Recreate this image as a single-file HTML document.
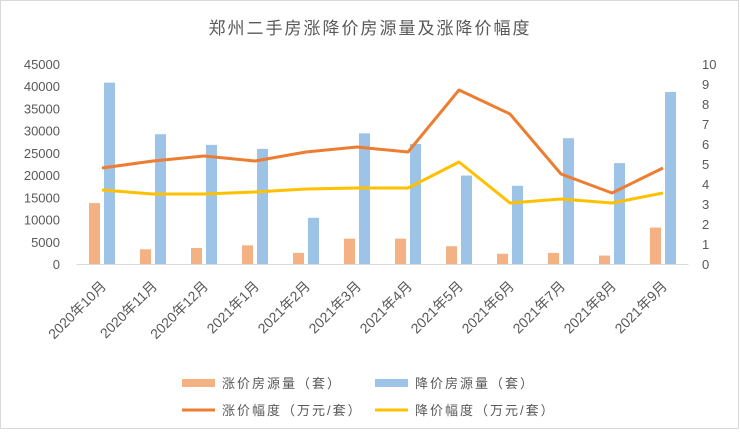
<!DOCTYPE html>
<html><head><meta charset="utf-8"><style>
body{margin:0;background:#fff}
svg text{font-family:"Liberation Sans","Noto Sans CJK SC",sans-serif}
</style></head><body>
<svg width="740" height="430">
<rect x="0.5" y="0.5" width="738" height="428" fill="#fff" stroke="#d9d9d9"/>
<text x="370" y="34" text-anchor="middle" font-size="17" fill="#595959" letter-spacing="2" font-family="'Noto Serif CJK SC',serif">郑州二手房涨降价房源量及涨降价幅度</text>
<g id="g"></g>
<g font-size="13" fill="#595959">
<rect x="182" y="379" width="33" height="8" fill="#f4b183"/>
<text x="222" y="388" fill="#595959" letter-spacing="2">涨价房源量（套）</text>
<rect x="375" y="379" width="33" height="8" fill="#9dc3e6"/>
<text x="415" y="388" fill="#595959" letter-spacing="2">降价房源量（套）</text>
<line x1="182" y1="410" x2="215" y2="410" stroke="#ed7d31" stroke-width="3"/>
<text x="222" y="415" fill="#595959" letter-spacing="2">涨价幅度（万元/套）</text>
<line x1="375" y1="410" x2="408" y2="410" stroke="#ffc000" stroke-width="3"/>
<text x="415" y="415" fill="#595959" letter-spacing="2">降价幅度（万元/套）</text>
</g>
</svg>
<script>
const categories=["2020年10月","2020年11月","2020年12月","2021年1月","2021年2月","2021年3月","2021年4月","2021年5月","2021年6月","2021年7月","2021年8月","2021年9月"];
const riseCount=[13700,3300,3600,4200,2500,5700,5700,4000,2300,2500,1900,8200];
const fallCount=[40800,29200,26800,25900,10400,29400,27000,19900,17600,28300,22700,38700];
const riseAmp=[4.8,5.15,5.4,5.15,5.6,5.85,5.6,8.7,7.5,4.5,3.55,4.8];
const fallAmp=[3.7,3.5,3.5,3.6,3.75,3.8,3.8,5.1,3.05,3.25,3.05,3.55];
const leftTicks=[0,5000,10000,15000,20000,25000,30000,35000,40000,45000];
const rightTicks=[0,1,2,3,4,5,6,7,8,9,10];
const NS="http://www.w3.org/2000/svg",g=document.getElementById('g');
const x0=76.5,x1=688.5,yB=264,yT=64;
const step=(x1-x0)/categories.length;
const xc=i=>x0+step*(i+0.5);
const yL=v=>yB-(v/45000)*(yB-yT);
const yR=v=>yB-(v/10)*(yB-yT);
function el(t,a){const e=document.createElementNS(NS,t);for(const k in a)e.setAttribute(k,a[k]);g.appendChild(e);return e;}
leftTicks.forEach(v=>{const t=el('text',{x:60,y:yL(v)+5,'text-anchor':'end','font-size':13,fill:'#595959'});t.textContent=v;

});
rightTicks.forEach(v=>{const t=el('text',{x:702,y:yR(v)+5,'font-size':13,fill:'#595959'});t.textContent=v;

});
const ax=el('line',{x1:x0,x2:x1,y1:yB+0.5,y2:yB+0.5,stroke:'#d9d9d9'});


categories.forEach((c,i)=>{
const r=el('rect',{x:xc(i)-13,y:yL(riseCount[i]),width:11,height:yB-yL(riseCount[i]),fill:'#f4b183'});


const b=el('rect',{x:xc(i)+2,y:yL(fallCount[i]),width:11,height:yB-yL(fallCount[i]),fill:'#9dc3e6'});


const t=el('text',{x:xc(i)+5,y:yB+23,'text-anchor':'end','font-size':14,fill:'#595959',transform:`rotate(-45 ${xc(i)+5} ${yB+23})`});
t.textContent=c;


});
function line(vals,col,name){const p=el('polyline',{points:vals.map((v,i)=>xc(i)+','+yR(v)).join(' '),fill:'none',stroke:col,'stroke-width':3,'stroke-linejoin':'round'});

}
line(riseAmp,'#ed7d31','line-rise-amp');
line(fallAmp,'#ffc000','line-fall-amp');
</script>
</body></html>
